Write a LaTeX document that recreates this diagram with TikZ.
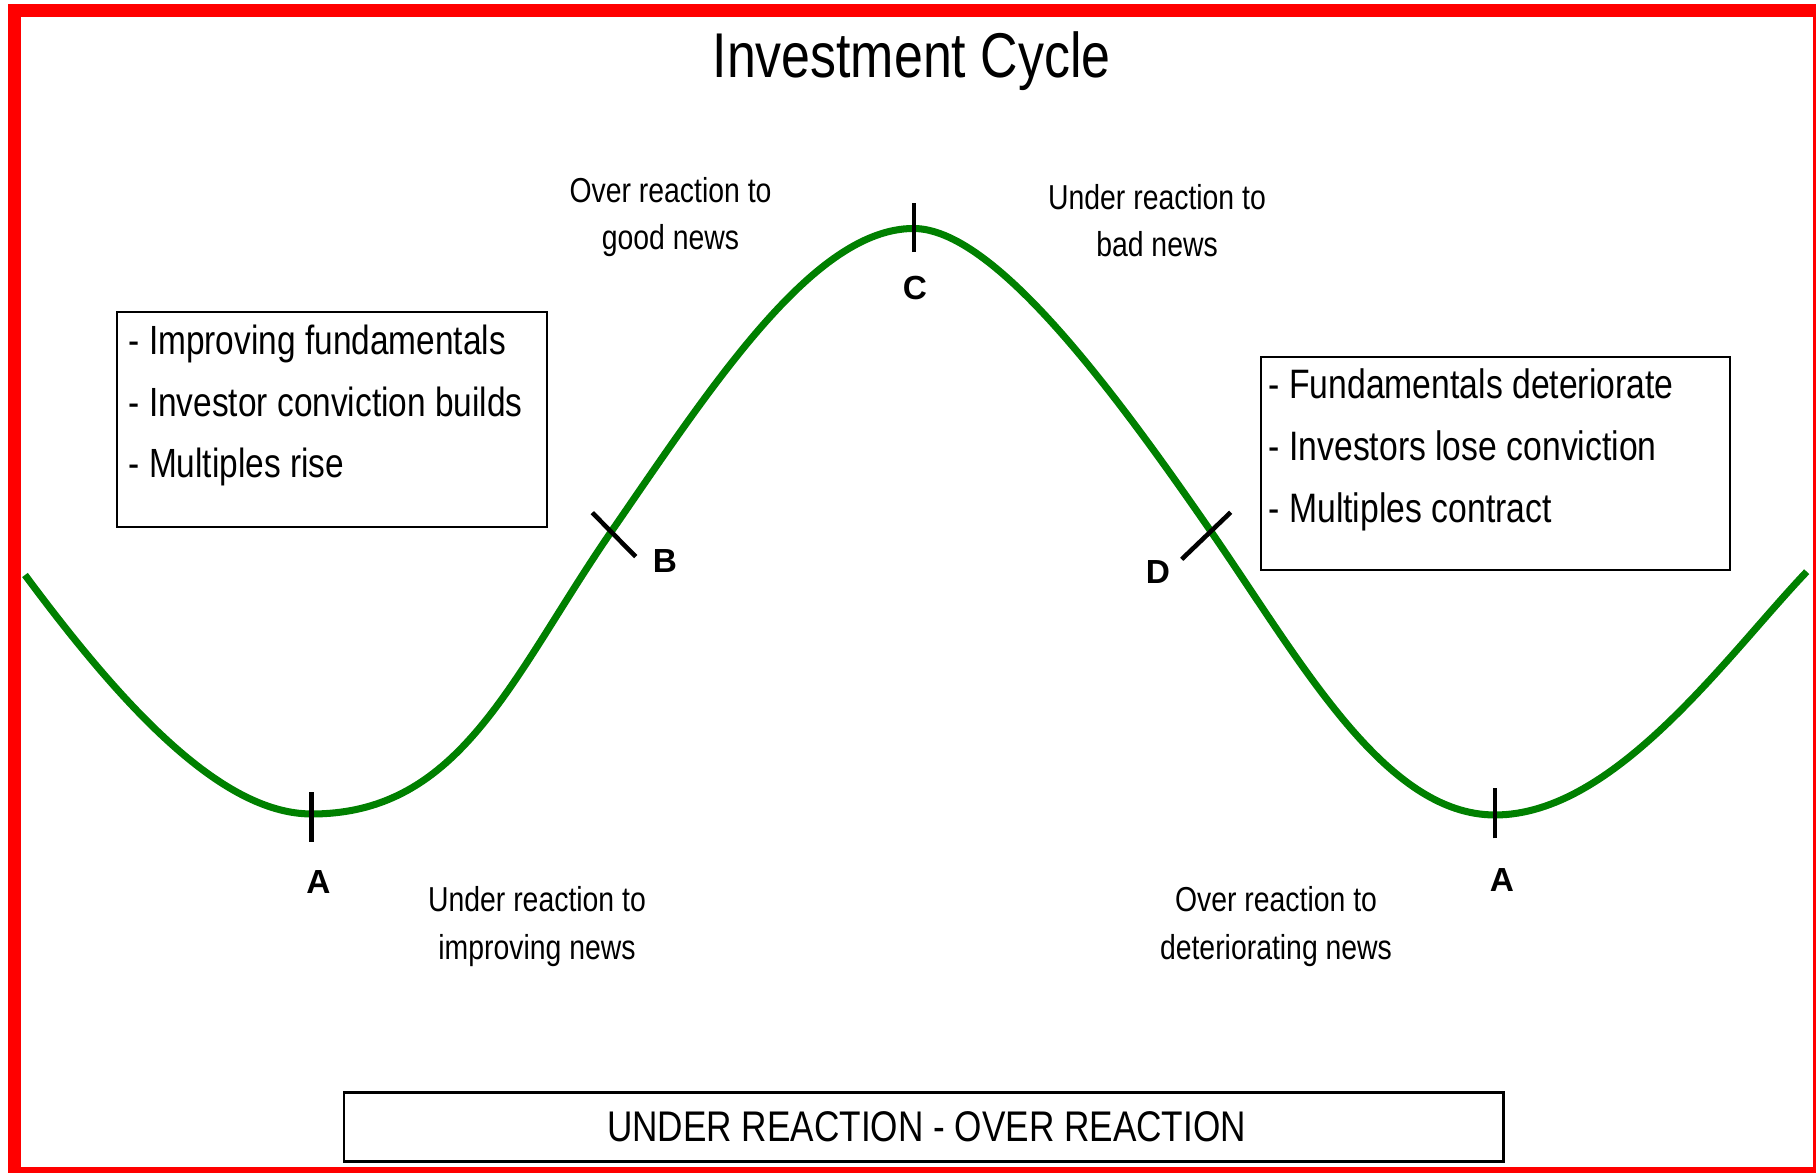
\documentclass[tikz,border=0pt]{standalone}
\usepackage{fontspec}
\setmainfont{Liberation Sans}
\newfontfamily\narrowfont[FakeStretch=0.82]{Liberation Sans}
\definecolor{cyclegreen}{RGB}{0,128,0}
\tikzset{
    curve/.style={line width=2pt, color=cyclegreen},
    tickmark/.style={line width=1.3pt},
    phase/.style={font=\bfseries\fontsize{9.5}{11.4}\selectfont},
    reaction/.style={anchor=base, inner sep=0pt, font=\narrowfont\fontsize{9.85}{11.8}\selectfont},
    bullet/.style={anchor=base west, inner sep=0pt, font=\narrowfont\fontsize{11.6}{13.9}\selectfont},
    infobox/.style={line width=0.8pt}
}

\begin{document}
\begin{tikzpicture}
\useasboundingbox (0,0) rectangle (18.16,11.73);
\draw[red, line width=0.13cm] (0.145,-0.01) rectangle (18.19,11.62); % frame
\node[anchor=base, inner sep=0pt, font=\narrowfont\fontsize{18}{21.6}\selectfont] (title) at (9.115,10.95) {Investment Cycle}; % heading

% turning points of the cycle
\coordinate (start) at (0.25,5.98);
\coordinate (troughL) at (3.117,3.59);
\coordinate (riseB) at (6.117,6.42);
\coordinate (peak) at (9.135,9.445);
\coordinate (fallD) at (12.12,6.40);
\coordinate (troughR) at (14.95,3.58);
\coordinate (finish) at (18.067,6.013);
\draw[curve] (start) .. controls (1.2,4.7) and (2.2,3.59) .. (troughL)
    .. controls (4.617,3.59) and (5.117,4.97) .. (riseB)
    .. controls (7.117,7.87) and (8.135,9.445) .. (peak)
    .. controls (9.935,9.445) and (11.12,7.85) .. (fallD)
    .. controls (13.02,5.095) and (13.85,3.58) .. (troughR)
    .. controls (16.15,3.58) and (17.267,5.173) .. (finish); % the cycle

% phase marks on the cycle
\coordinate (ptA) at (3.117,3.563);
\coordinate (ptB) at (6.14,6.383);
\coordinate (ptC) at (9.14,9.457);
\coordinate (ptD) at (12.062,6.372);
\coordinate (ptE) at (14.95,3.597);
\draw[tickmark] (ptA) ++(0,-0.25) -- ++(0,0.5);
\draw[tickmark] (ptB) ++(-0.217,0.22) -- ++(0.434,-0.44);
\draw[tickmark] (ptC) ++(0,-0.248) -- ++(0,0.495);
\draw[tickmark] (ptD) ++(-0.245,-0.235) -- ++(0.49,0.47);
\draw[tickmark] (ptE) ++(0,-0.25) -- ++(0,0.5);
\node[phase] (labA) at (3.185,2.905) {A};
\node[phase] (labB) at (6.65,6.12) {B};
\node[phase] (labC) at (9.15,8.847) {C};
\node[phase] (labD) at (11.58,6.01) {D};
\node[phase] (labE) at (15.02,2.93) {A};

% reactions along the cycle
\node[reaction] (goodA) at (6.705,9.70) {Over reaction to};
\node[reaction] (goodB) at (6.705,9.235) {good news};
\node[reaction] (badA) at (11.57,9.633) {Under reaction to};
\node[reaction] (badB) at (11.57,9.163) {bad news};
\node[reaction] (impA) at (5.37,2.613) {Under reaction to};
\node[reaction] (impB) at (5.37,2.137) {improving news};
\node[reaction] (detA) at (12.76,2.613) {Over reaction to};
\node[reaction] (detB) at (12.76,2.137) {deteriorating news};

% upswing box
\draw[infobox] (1.17,6.46) rectangle (5.47,8.61);
\foreach \txt [count=\i] in {Improving fundamentals, Investor conviction builds, Multiples rise}
    \node[bullet] (up\i) at (1.28,{8.795-0.615*\i}) {- \txt};

% downswing box
\draw[infobox] (12.61,6.03) rectangle (17.30,8.16);
\foreach \txt [count=\i] in {Fundamentals deteriorate, Investors lose conviction, Multiples contract}
    \node[bullet, font=\narrowfont\fontsize{11.7}{14}\selectfont] (down\i) at (12.68,{8.36-0.62*\i}) {- \txt};

% banner
\draw[infobox] (3.44,0.113) rectangle (15.035,0.807);
\node[anchor=base, inner sep=0pt, font=\narrowfont\fontsize{12.2}{14.6}\selectfont] (banner) at (9.266,0.313) {UNDER REACTION - OVER REACTION};
\end{tikzpicture}
\end{document}
